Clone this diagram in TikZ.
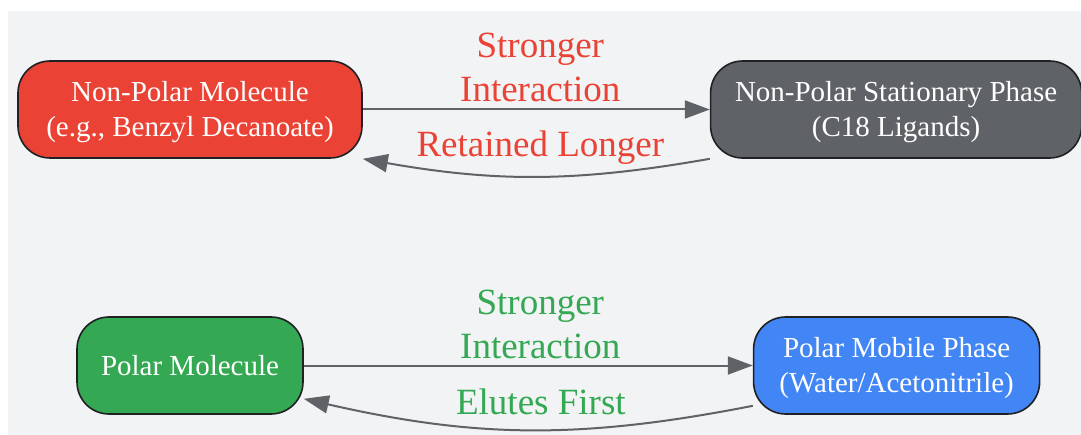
\documentclass[tikz,border=0pt]{standalone}
\usepackage{fontspec}
\setmainfont{Liberation Serif}
\usepackage{tikz}
\usetikzlibrary{positioning}
\usetikzlibrary{arrows.meta}

\definecolor{bggray}{HTML}{F1F3F4}
\definecolor{linegray}{HTML}{5F6368}
\definecolor{outline}{HTML}{202124}
\definecolor{npred}{HTML}{EA4335}
\definecolor{npgray}{HTML}{5F6368}
\definecolor{pgreen}{HTML}{34A853}
\definecolor{pblue}{HTML}{4285F4}

\tikzset{
  phase/.style={draw=outline, line width=1.6pt, rounded corners=32pt,
    minimum height=97pt, inner sep=0pt, align=center, text=white,
    font=\fontsize{29}{35}\selectfont},
  twoline/.style={execute at begin node={\rule{0pt}{61pt}}},
  flow/.style={draw=linegray, line width=2pt, -{Triangle[length=25pt,width=18pt]}},
  lbl/.style={font=\fontsize{37}{44}\selectfont, align=center, inner sep=2pt}
}

\begin{document}
\begin{tikzpicture}[x=1pt, y=1pt]
  \useasboundingbox (0,0) rectangle (1081,-435);
  \fill[bggray] (8,-11) rectangle (1081,-435);
  % Nodes
  \node [phase, twoline, fill=npred, minimum width=344pt] (npmol) at (190,-109.5) {Non-Polar Molecule\\(e.g., Benzyl Decanoate)};
  \node [phase, twoline, fill=npgray, minimum width=371pt, right=347pt of npmol] (npstat) {Non-Polar Stationary Phase\\(C18 Ligands)};
  \node [phase, fill=pgreen, minimum width=226pt] (pmol) at (190,-365.5) {Polar Molecule};
  \node [phase, twoline, fill=pblue, minimum width=286pt, right=449pt of pmol] (pmob) {Polar Mobile Phase\\(Water/Acetonitrile)};
  % Arrows
  \draw [flow] (npmol) -- node[lbl, text=npred, above=5pt, xshift=4pt] (npint) {Stronger\\Interaction} (npstat);
  \draw [flow] (npstat.south west) to[bend left=10] node[lbl, text=npred, above=9pt, xshift=4pt] (npret) {Retained Longer} (npmol.south east);
  \draw [flow] (pmol) -- node[lbl, text=pgreen, above=4pt, xshift=12pt] (pint) {Stronger\\Interaction} (pmob);
  \draw [flow] ([yshift=9pt]pmob.south west) to[bend left=12] node[lbl, text=pgreen, above=12pt, xshift=13pt] (pelu) {Elutes First} ([yshift=16pt]pmol.south east);
\end{tikzpicture}
\end{document}
